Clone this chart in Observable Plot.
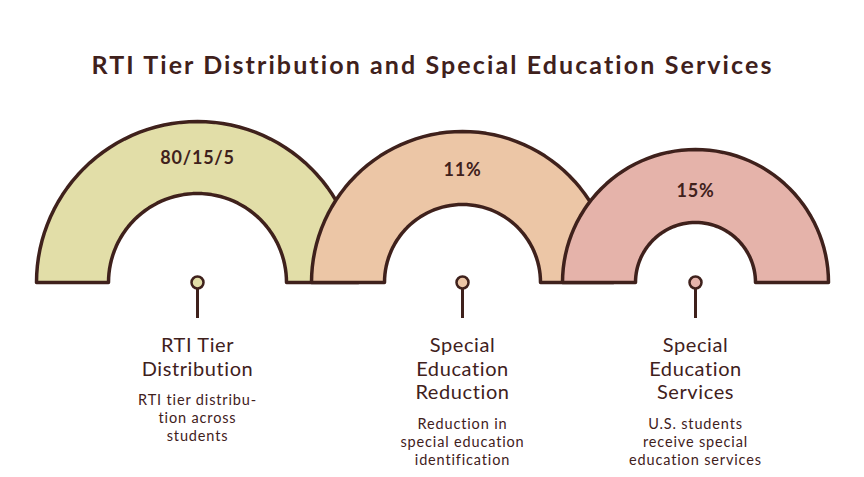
<!DOCTYPE html>
<html>
<head>
<meta charset="utf-8">
<script src="https://cdn.jsdelivr.net/npm/d3@7"></script>
<script src="https://cdn.jsdelivr.net/npm/@observablehq/plot@0.6"></script>
<style>
  body { margin: 0; background: #fff; }
  #chart svg { display: block; }
</style>
</head>
<body>
<div id="chart"></div>
<script>
// data
const chartTitle = 'RTI Tier Distribution and Special Education Services'
const stats = ['80/15/5', '11%', '15%']
const headings = ['RTI Tier\nDistribution', 'Special\nEducation\nReduction', 'Special\nEducation\nServices']
const notes = [
  'RTI tier distribu-\ntion across\nstudents',
  'Reduction in\nspecial education\nidentification',
  'U.S. students\nreceive special\neducation services'
]

// layout (pixels)
const W = 864, H = 477
const base = 282
const centers = [197, 462, 695]
const outerR = [161, 151, 133]
const innerR = [89, 78, 60]
const statY = [158, 170, 191]
const noteY = [392, 416, 416]
const fills = ['#e2dea8', '#ecc6a6', '#e5b3aa']
const ink = '#3f211c'

// arc outlines built from the layout
const arcs = centers.flatMap((cx, i) => {
  const n = 60
  const pts = []
  for (let k = 0; k <= n; k++) {
    const t = Math.PI * k / n
    pts.push({i, x: cx - outerR[i] * Math.cos(t), y: base - outerR[i] * Math.sin(t)})
  }
  for (let k = n; k >= 0; k--) {
    const t = Math.PI * k / n
    pts.push({i, x: cx - innerR[i] * Math.cos(t), y: base - innerR[i] * Math.sin(t)})
  }
  pts.push({...pts[0]})
  return pts
})

const items = stats.map((s, i) => ({
  i, stat: s, heading: headings[i], note: notes[i],
  x: centers[i], sy: statY[i], ny: noteY[i], fill: fills[i]
}))

const font = 'Lato, "Open Sans", sans-serif'

let chart = Plot.plot({
  width: W,
  height: H,
  margin: 0,
  x: {domain: [0, W], range: [0, W], axis: null},
  y: {domain: [0, H], range: [0, H], axis: null},
  style: {fontFamily: font, background: '#fff'},
  marks: [
    Plot.text([chartTitle], {
      x: W / 2, y: 65, text: d => d,
      fontSize: 25, fontWeight: 'bold', fill: ink
    }),
    ...[0, 1, 2].map(i => Plot.line(arcs.filter(d => d.i === i), {
      x: 'x', y: 'y', fill: fills[i], stroke: ink, strokeWidth: 3.5,
      strokeLinejoin: 'round', curve: 'linear'
    })),
    Plot.text(items, {
      x: 'x', y: 'sy', text: 'stat',
      fontSize: 18, fontWeight: 'bold', fill: ink
    }),
    Plot.ruleX(items, {
      x: 'x', y1: base + 6, y2: 318, stroke: ink, strokeWidth: 3
    }),
    Plot.dot(items, {
      x: 'x', y: base, r: 6, fill: 'fill', stroke: ink, strokeWidth: 2.5
    }),
    Plot.text(items, {
      x: 'x', y: 335, text: 'heading', lineAnchor: 'top',
      fontSize: 20, lineHeight: 1.17, fill: ink
    }),
    Plot.text(items, {
      x: 'x', y: 'ny', text: 'note', lineAnchor: 'top',
      fontSize: 14.5, lineHeight: 1.24, fill: ink
    })
  ]
})

// wider lettering, closer to the hand-drawn font of the original
const spacing = ['2.1px', '0.8px', '0.6px', '0.85px']
d3.select(chart).selectAll('g[aria-label="text"]')
  .each(function(_, k) { d3.select(this).style('letter-spacing', spacing[k]) })

d3.select('#chart').append(() => chart)
</script>
</body>
</html>
